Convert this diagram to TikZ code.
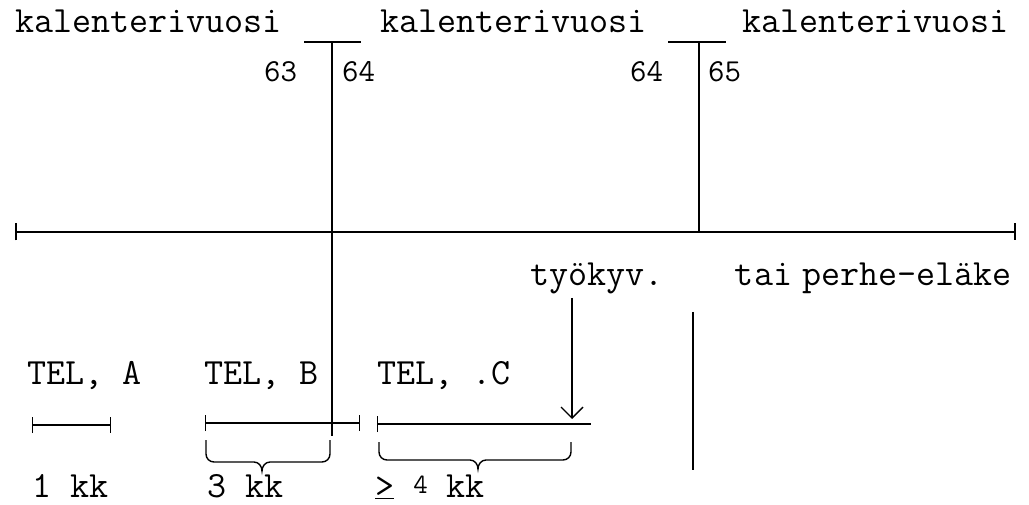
\documentclass[tikz,border=0pt]{standalone}
\usetikzlibrary{arrows.meta}
\begin{document}
\begin{tikzpicture}[x=1pt,y=-1pt,
  ln/.style={line width=1.6pt},
  barboth/.style={line width=1.4pt,{Bar[width=16pt,line width=1.4pt]}-{Bar[width=16pt,line width=1.4pt]}},
  barleft/.style={line width=1.4pt,{Bar[width=16pt,line width=1.4pt]}-},
  txt/.style={font=\fontsize{37}{40}\selectfont\ttfamily, inner sep=0pt, anchor=base west},
  num/.style={font=\fontsize{32}{36}\selectfont\ttfamily, inner sep=0pt, anchor=base west},
  brc/.style={line width=1.4pt}]
\useasboundingbox (0,0) rectangle (1029,505);

% top labels
\node[txt] (k1) at (15,33) {kalenterivuosi};
\node[txt] (k2) at (380,33) {kalenterivuosi};
\node[txt] (k3) at (742,33) {kalenterivuosi};
\node[num] (n63) at (264,82) {63};
\node[num] (n64a) at (342,82) {64};
\node[num] (n64b) at (630,82) {64};
\node[num] (n65) at (708,82) {65};

% year boundaries
\coordinate (b1l) at (304,42); \coordinate (b1r) at (361,42);
\coordinate (v1t) at (332,42); \coordinate (v1b) at (332,436);
\coordinate (b2l) at (668,42); \coordinate (b2r) at (726,42);
\coordinate (v2t) at (699,42); \coordinate (v2b) at (699,232);
\draw[ln] (b1l) -- (b1r);
\draw[ln] (v1t) -- (v1b);
\draw[ln] (b2l) -- (b2r);
\draw[ln] (v2t) -- (v2b);

% main axis
\coordinate (axl) at (15,232); \coordinate (axr) at (1016,232);
\draw[ln,{Bar[width=17pt,line width=1.6pt]}-{Bar[width=17pt,line width=1.6pt]}] (axl) -- (axr);

% pension label
\node[txt] (tp) at (530,286) {työkyv.\hspace{46pt} tai\hspace{10pt}perhe-eläke};
\coordinate (arT) at (572,298); \coordinate (arB) at (572,419);
\draw[line width=1.4pt,-{Straight Barb[length=11pt,width=22pt,line width=1.4pt]}] (arT) -- (arB);
\coordinate (pvT) at (693,312); \coordinate (pvB) at (693,470);
\draw[ln] (pvT) -- (pvB);

% TEL labels
\node[txt] (ta) at (27,384) {TEL, A};
\node[txt] (tb) at (204,384) {TEL, B};
\node[txt] (tc) at (377,384) {TEL, .C};

% intervals
\coordinate (a1) at (32,425); \coordinate (a2) at (111,425);
\coordinate (bb1) at (205,423); \coordinate (bb2) at (360,423);
\coordinate (c1) at (377,424); \coordinate (c2) at (591,424);
\draw[barboth] (a1) -- (a2);
\draw[barboth] (bb1) -- (bb2);
\draw[barleft] (c1) -- (c2);

% braces
\draw[brc] (206,440) -- (206,454) to[out=-90,in=180] (214,462) -- (254,462)
  to[out=0,in=90] (262,471) to[out=90,in=180] (270,462) -- (322,462)
  to[out=0,in=-90] (330,454) -- (330,440);
\draw[brc] (379,442) -- (379,452) to[out=-90,in=180] (387,460) -- (470,460)
  to[out=0,in=90] (478,469) to[out=90,in=180] (486,460) -- (563,460)
  to[out=0,in=-90] (571,452) -- (571,442);

% durations
\node[txt] (d1) at (32,497) {1 kk};
\node[txt] (d3) at (207,497) {3 kk};
\node[txt] (d4) at (375,497) {\underline{>} {\fontsize{28}{30}\selectfont\raisebox{4pt}{4}} kk};
\end{tikzpicture}
\end{document}
